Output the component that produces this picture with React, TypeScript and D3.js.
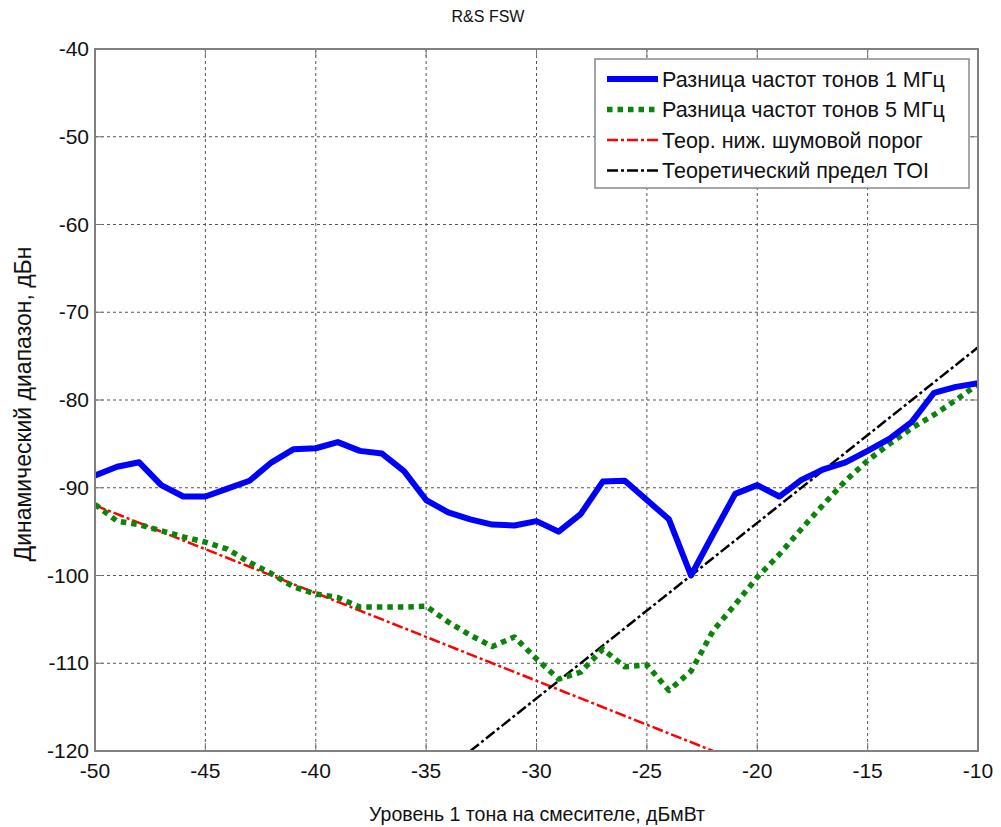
import React, { useEffect, useRef } from 'react';
import * as d3 from 'd3';

const levels = d3.range(-50, -9, 1);

const tone1MHz = [
  -88.6, -87.6, -87.1, -89.7, -91.0, -91.0, -90.1, -89.2, -87.1, -85.6,
  -85.5, -84.8, -85.8, -86.1, -88.1, -91.4, -92.8, -93.6, -94.2, -94.3,
  -93.8, -95.0, -93.0, -89.3, -89.2, -91.4, -93.6, -100.0, -95.3, -90.7,
  -89.7, -91.0, -89.1, -87.9, -87.1, -85.8, -84.4, -82.5, -79.2, -78.5,
  -78.1,
];

const tone5MHz = [
  -91.9, -93.8, -94.2, -94.9, -95.6, -96.2, -97.0, -98.5, -99.8, -101.3,
  -102.1, -102.5, -103.6, -103.6, -103.6, -103.5, -105.3, -106.8, -108.1, -107.0,
  -109.5, -111.8, -111.0, -108.4, -110.4, -110.2, -113.1, -110.9, -106.3, -103.3,
  -100.2, -97.6, -94.7, -91.9, -89.2, -86.9, -85.0, -83.2, -81.7, -80.0,
  -78.2,
];

const noiseFloorX = [-50, -22];
const noiseFloorY = [-92, -120];
const toiX = [-33, -10];
const toiY = [-120, -74];

const xTicks = [-50, -45, -40, -35, -30, -25, -20, -15, -10];
const yTicks = [-40, -50, -60, -70, -80, -90, -100, -110, -120];

const legendLabels = [
  'Разница частот тонов 1 МГц',
  'Разница частот тонов 5 МГц',
  'Теор. ниж. шумовой порог',
  'Теоретический предел TOI',
];

const W = 1001;
const H = 827;
const margin = { top: 49, right: 23, bottom: 76, left: 95 };
const font = 'Arial, "Liberation Sans", sans-serif';

const styles = [
  { color: '#0000ff', width: 6, dash: null as string | null },
  { color: '#0a850a', width: 5.5, dash: '5.5,5' },
  { color: '#ff0000', width: 2.5, dash: '11,3,3,3' },
  { color: '#000000', width: 2.5, dash: '11,3,3,3' },
];

export default function App() {
  const ref = useRef<SVGSVGElement>(null);

  useEffect(() => {
    const svg = d3.select(ref.current);
    svg.selectAll('*').remove();

    const x = d3.scaleLinear().domain([-50, -10]).range([margin.left, W - margin.right]);
    const y = d3.scaleLinear().domain([-120, -40]).range([H - margin.bottom, margin.top]);
    const [x0, x1] = x.range();
    const [y1, y0] = y.range();

    svg.append('rect').attr('x', x0).attr('y', y0).attr('width', x1 - x0).attr('height', y1 - y0).attr('fill', '#fff');

    // grid
    const grid = svg.append('g').attr('stroke', '#555').attr('stroke-width', 1).attr('stroke-dasharray', '3,3');
    grid.selectAll('.gx').data(xTicks.slice(1, -1)).join('line')
      .attr('x1', d => x(d)).attr('x2', d => x(d)).attr('y1', y0).attr('y2', y1);
    grid.selectAll('.gy').data(yTicks.slice(1, -1)).join('line')
      .attr('y1', d => y(d)).attr('y2', d => y(d)).attr('x1', x0).attr('x2', x1);

    // ticks inward
    const tk = svg.append('g').attr('stroke', '#777').attr('stroke-width', 1);
    xTicks.forEach(t => {
      tk.append('line').attr('x1', x(t)).attr('x2', x(t)).attr('y1', y1).attr('y2', y1 - 8);
      tk.append('line').attr('x1', x(t)).attr('x2', x(t)).attr('y1', y0).attr('y2', y0 + 8);
    });
    yTicks.forEach(t => {
      tk.append('line').attr('y1', y(t)).attr('y2', y(t)).attr('x1', x0).attr('x2', x0 + 8);
      tk.append('line').attr('y1', y(t)).attr('y2', y(t)).attr('x1', x1).attr('x2', x1 - 8);
    });

    const clip = svg.append('defs').append('clipPath').attr('id', 'plotclip');
    clip.append('rect').attr('x', x0).attr('y', y0).attr('width', x1 - x0).attr('height', y1 - y0);

    const line = d3.line<[number, number]>().x(d => x(d[0])).y(d => y(d[1]));
    const series: [number, number][][] = [
      levels.map((v, i) => [v, tone1MHz[i]]),
      levels.map((v, i) => [v, tone5MHz[i]]),
      noiseFloorX.map((v, i) => [v, noiseFloorY[i]]),
      toiX.map((v, i) => [v, toiY[i]]),
    ];
    const plot = svg.append('g').attr('clip-path', 'url(#plotclip)');
    [2, 3, 1, 0].forEach(i => {
      const s = styles[i];
      plot.append('path').attr('d', line(series[i])).attr('fill', 'none')
        .attr('stroke', s.color).attr('stroke-width', s.width)
        .attr('stroke-dasharray', s.dash).attr('stroke-linejoin', 'round');
    });

    // frame
    svg.append('rect').attr('x', x0).attr('y', y0).attr('width', x1 - x0).attr('height', y1 - y0)
      .attr('fill', 'none').attr('stroke', '#808080').attr('stroke-width', 2);

    // tick labels
    svg.append('g').selectAll('text').data(xTicks).join('text')
      .attr('x', d => x(d)).attr('y', y1 + 27).attr('text-anchor', 'middle')
      .attr('font-family', font).attr('font-size', 21).attr('fill', '#111').text(d => d);
    svg.append('g').selectAll('text').data(yTicks).join('text')
      .attr('x', x0 - 6).attr('y', d => y(d) + 7).attr('text-anchor', 'end')
      .attr('font-family', font).attr('font-size', 21).attr('fill', '#111').text(d => d);

    svg.append('text').attr('x', 488).attr('y', 22).attr('text-anchor', 'middle')
      .attr('font-family', font).attr('font-size', 16).attr('fill', '#111').text('R&S FSW');
    svg.append('text').attr('x', 537).attr('y', 821).attr('text-anchor', 'middle')
      .attr('font-family', font).attr('font-size', 19.5).attr('fill', '#111')
      .text('Уровень 1 тона на смесителе, дБмВт');
    svg.append('text').attr('transform', 'translate(31,404) rotate(-90)')
      .attr('text-anchor', 'middle').attr('font-family', font).attr('font-size', 23).attr('fill', '#111')
      .text('Динамический диапазон, дБн');

    // legend
    const lg = svg.append('g').attr('transform', 'translate(595,59)');
    lg.append('rect').attr('width', 374).attr('height', 129).attr('fill', '#fff')
      .attr('stroke', '#888').attr('stroke-width', 1.5);
    legendLabels.forEach((label, i) => {
      const s = styles[i];
      const cy = 20 + i * 30.5;
      lg.append('line').attr('x1', 12).attr('x2', 63).attr('y1', cy).attr('y2', cy)
        .attr('stroke', s.color).attr('stroke-width', s.width).attr('stroke-dasharray', s.dash);
      lg.append('text').attr('x', 67).attr('y', cy + 7.5).attr('font-family', font)
        .attr('font-size', 21.5).attr('fill', '#111').text(label);
    });
  }, []);

  return (
    <svg ref={ref} width={W} height={H}
      style={{ position: 'absolute', left: 0, top: 0, background: '#fff' }} />
  );
}
